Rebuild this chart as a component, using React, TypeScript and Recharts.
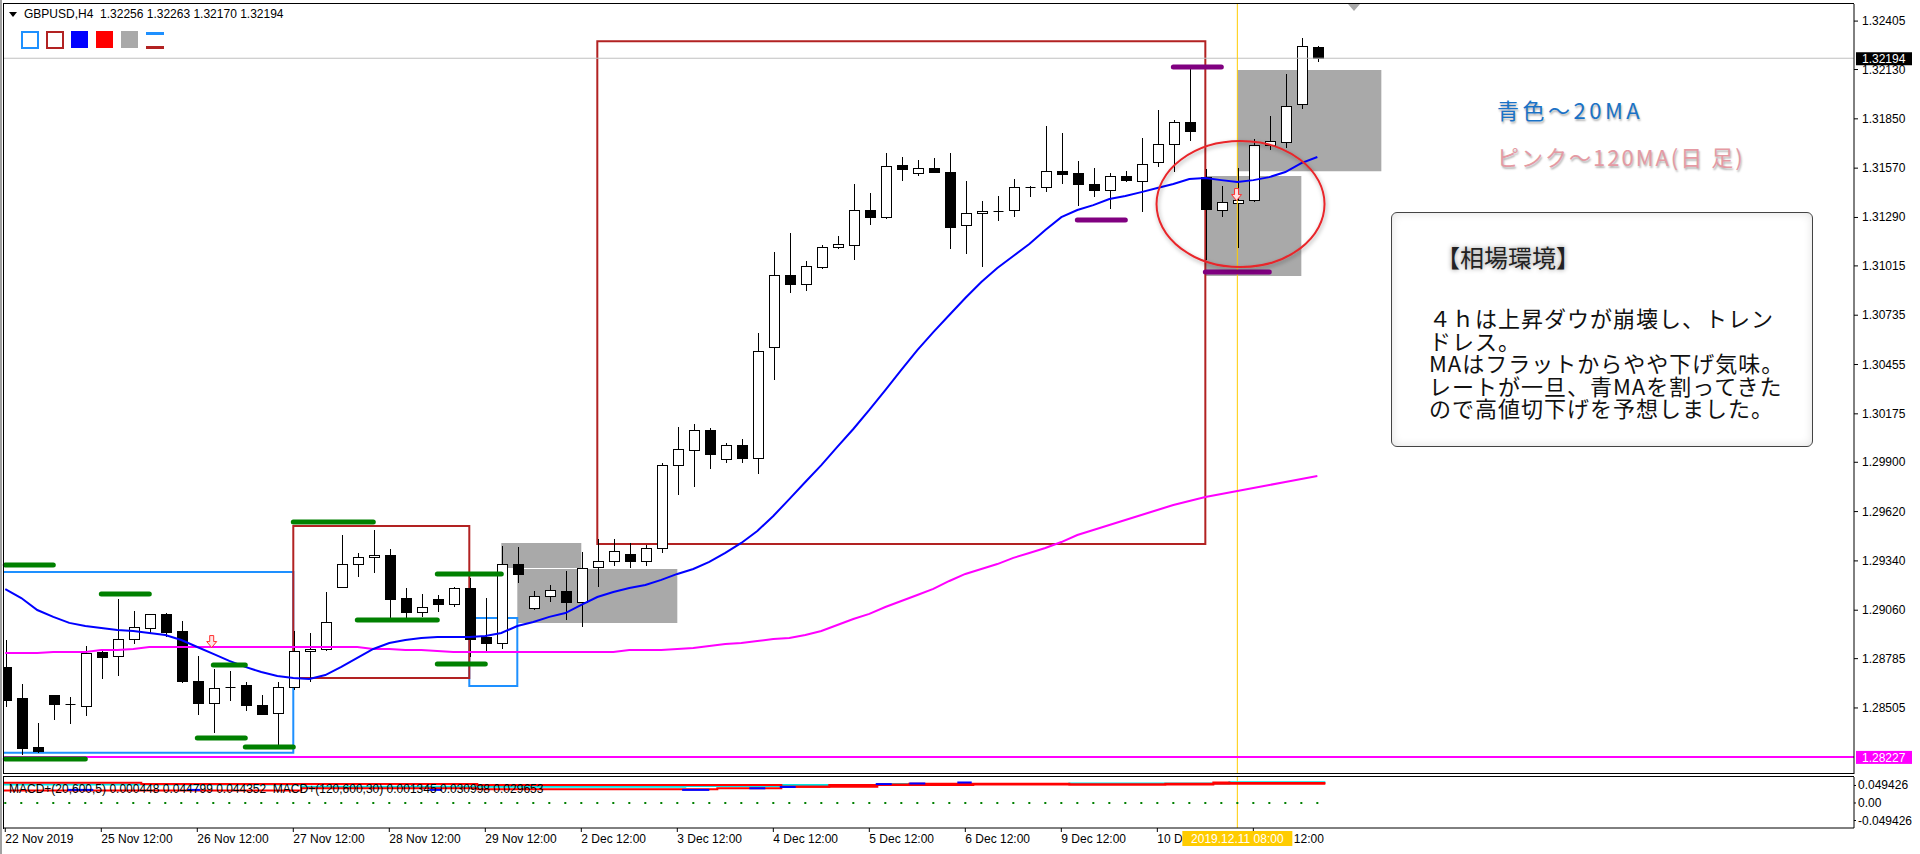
import React from 'react';
import {
  ComposedChart,
  Bar,
  Line,
  Scatter,
  XAxis,
  YAxis,
  ReferenceArea,
  ReferenceLine,
  ReferenceDot,
} from 'recharts';

// GBPUSD H4 bars, 22 Nov 2019 -> 11 Dec 2019 (x value = bar number)
const opens = [
  1.28738, 1.28562, 1.28284, 1.28579, 1.28528, 1.28516, 1.28823, 1.288, 1.28897, 1.28959,
  1.29039, 1.28942, 1.28658, 1.28533, 1.28624, 1.28635, 1.28522, 1.28477, 1.28624, 1.28829,
  1.2884, 1.29192, 1.29322, 1.29362, 1.29374, 1.29129, 1.2905, 1.29124, 1.29095, 1.29186,
  1.28908, 1.28874, 1.29322, 1.29073, 1.29141, 1.29169, 1.29107, 1.29305, 1.29339, 1.29379,
  1.29339, 1.29413, 1.29884, 1.2997, 1.30083, 1.29919, 1.29998, 1.29924, 1.30554, 1.30963,
  1.30912, 1.31009, 1.31122, 1.31133, 1.31332, 1.31292, 1.31588, 1.31542, 1.31571, 1.31548,
  1.31247, 1.31315, 1.31326, 1.31332, 1.31463, 1.31463, 1.31553, 1.31542, 1.3148, 1.31446,
  1.31525, 1.31497, 1.31605, 1.31707, 1.31832, 1.31519, 1.31332, 1.31372, 1.31389, 1.31701,
  1.31718, 1.31934, 1.32256,
];
const highs = [
  1.28891, 1.28641, 1.2842, 1.28579, 1.28567, 1.28857, 1.2884, 1.29124, 1.29056, 1.29039,
  1.29044, 1.28999, 1.288, 1.28726, 1.28715, 1.28652, 1.28579, 1.28652, 1.28942, 1.28931,
  1.29163, 1.29487, 1.29385, 1.29515, 1.29408, 1.29186, 1.29152, 1.29146, 1.29192, 1.29243,
  1.29129, 1.29425, 1.29419, 1.29169, 1.29203, 1.29283, 1.29391, 1.29464, 1.29464, 1.29442,
  1.2943, 1.29896, 1.301, 1.30117, 1.30095, 1.30009, 1.30032, 1.30634, 1.31094, 1.31202,
  1.31043, 1.31133, 1.31184, 1.3148, 1.31429, 1.31656, 1.31633, 1.31616, 1.31627, 1.31656,
  1.31497, 1.31383, 1.31412, 1.31508, 1.31468, 1.31809, 1.31769, 1.3161, 1.31571, 1.31542,
  1.31553, 1.31741, 1.319, 1.31843, 1.3215, 1.31565, 1.31468, 1.31571, 1.31735, 1.31866,
  1.32104, 1.32309, 1.32263,
];
const lows = [
  1.28511, 1.28238, 1.2825, 1.28437, 1.28414, 1.28459, 1.2867, 1.28687, 1.28868, 1.28931,
  1.28908, 1.28647, 1.28465, 1.28363, 1.28545, 1.28488, 1.28465, 1.28284, 1.28607, 1.28652,
  1.28829, 1.29186, 1.29249, 1.29271, 1.29005, 1.28993, 1.29022, 1.2905, 1.29078, 1.28795,
  1.28829, 1.2884, 1.29215, 1.29061, 1.29107, 1.29005, 1.28965, 1.29192, 1.29311, 1.293,
  1.29311, 1.29385, 1.29714, 1.2976, 1.29862, 1.29896, 1.29896, 1.29833, 1.30367, 1.30861,
  1.30872, 1.30997, 1.31111, 1.31048, 1.31247, 1.31281, 1.31497, 1.31525, 1.31542, 1.31111,
  1.31082, 1.31009, 1.3127, 1.31292, 1.31406, 1.31434, 1.3148, 1.31355, 1.31406, 1.31338,
  1.31491, 1.31321, 1.31576, 1.31548, 1.31724, 1.31048, 1.31292, 1.31116, 1.31377, 1.31673,
  1.31684, 1.31905, 1.3217,
];
const closes = [
  1.2855, 1.28278, 1.28261, 1.28528, 1.28526, 1.28817, 1.28795, 1.28897, 1.28965, 1.29039,
  1.28936, 1.28658, 1.28533, 1.28618, 1.28622, 1.28522, 1.28471, 1.28624, 1.28829, 1.2884,
  1.28993, 1.29322, 1.29362, 1.29374, 1.29124, 1.2905, 1.29078, 1.29095, 1.29186, 1.28897,
  1.28874, 1.29322, 1.29266, 1.29141, 1.29175, 1.29107, 1.293, 1.29339, 1.29396, 1.29339,
  1.29413, 1.29884, 1.29975, 1.30083, 1.29947, 1.29998, 1.29924, 1.30532, 1.30963, 1.30912,
  1.31014, 1.31122, 1.31139, 1.31332, 1.31292, 1.31582, 1.31565, 1.31571, 1.31548, 1.31236,
  1.31315, 1.31326, 1.31328, 1.31463, 1.31465, 1.31553, 1.31536, 1.3148, 1.31446, 1.31525,
  1.31502, 1.31593, 1.31707, 1.31832, 1.31781, 1.31338, 1.31377, 1.31389, 1.31701, 1.31724,
  1.31922, 1.32263, 1.32194,
];

// 20MA (blue) and daily 120MA (pink)
const ma20 = [
  1.2918, 1.29129, 1.29061, 1.29022, 1.28988, 1.2897, 1.28959, 1.28948, 1.28942, 1.28931,
  1.28919, 1.28891, 1.28851, 1.28812, 1.28772, 1.28738, 1.28709, 1.28687, 1.28675, 1.2867,
  1.28692, 1.28738, 1.28789, 1.2884, 1.28874, 1.28891, 1.28902, 1.28908, 1.28908, 1.28908,
  1.28913, 1.28931, 1.2897, 1.28993, 1.29022, 1.29044, 1.2909, 1.29135, 1.29163, 1.29186,
  1.29203, 1.29232, 1.29266, 1.29294, 1.29334, 1.29385, 1.29442, 1.2951, 1.29595, 1.29691,
  1.29788, 1.29884, 1.29987, 1.30089, 1.30197, 1.3031, 1.30424, 1.30537, 1.30639, 1.30736,
  1.30833, 1.30923, 1.31003, 1.31071, 1.31139, 1.31219, 1.31292, 1.31332, 1.3136, 1.31395,
  1.31412, 1.31434, 1.31457, 1.3148, 1.31508, 1.31514, 1.31502, 1.31491, 1.31502, 1.31519,
  1.31548, 1.31599, 1.31633,
];
const ma120 = [
  1.28817, 1.28817, 1.28817, 1.28823, 1.28823, 1.28823, 1.28834, 1.28834, 1.2884, 1.28851,
  1.28851, 1.28851, 1.28851, 1.28851, 1.28851, 1.28851, 1.28851, 1.28851, 1.28851, 1.28851,
  1.28851, 1.28851, 1.28851, 1.2884, 1.2884, 1.28834, 1.28834, 1.28829, 1.28823, 1.28823,
  1.28823, 1.28823, 1.28823, 1.28823, 1.28823, 1.28823, 1.28823, 1.28823, 1.28823, 1.28834,
  1.28834, 1.28834, 1.2884, 1.28846, 1.28857, 1.28868, 1.28874, 1.28885, 1.28897, 1.28902,
  1.28919, 1.28942, 1.28976, 1.2901, 1.29039, 1.29078, 1.29112, 1.29146, 1.29181, 1.29226,
  1.29266, 1.29294, 1.29322, 1.29357, 1.29385, 1.29413, 1.29447, 1.29487, 1.29515, 1.29544,
  1.29572, 1.29601, 1.29629, 1.29657, 1.2968, 1.29703, 1.2972, 1.29737, 1.29754, 1.29771,
  1.29788, 1.29805, 1.29822,
];

const priceTicks = [
  1.32405, 1.3213, 1.3185, 1.3157, 1.3129, 1.31015, 1.30735, 1.30455, 1.30175, 1.299, 1.2962,
  1.2934, 1.2906, 1.28785, 1.28505,
];
const timeTickIdx = [0, 6, 12, 18, 24, 30, 36, 42, 48, 54, 60, 66, 72, 78];
const timeTickLabels = [
  '22 Nov 2019', '25 Nov 12:00', '26 Nov 12:00', '27 Nov 12:00', '28 Nov 12:00', '29 Nov 12:00',
  '2 Dec 12:00', '3 Dec 12:00', '4 Dec 12:00', '5 Dec 12:00', '6 Dec 12:00', '9 Dec 12:00',
  '10 Dec 12:00', '11 Dec 12:00',
];
const macdTicks = [0.049426, 0, -0.049426];

const lastBid = 1.32194;
const lineLevel = 1.28227;
const markBar = 77;
const markLabel = '2019.12.11 08:00';

// drawn objects on the chart
const greyBoxes = [
  { x1: 31, x2: 36, y1: 1.293, y2: 1.29442 },
  { x1: 32, x2: 42, y1: 1.28988, y2: 1.29294 },
  { x1: 77, x2: 86, y1: 1.31553, y2: 1.32127 },
  { x1: 75, x2: 81, y1: 1.30957, y2: 1.31525 },
];
const outlineBoxes = [
  { x1: -1, x2: 18, y1: 1.2825, y2: 1.29277, color: '#1e90ff' },
  { x1: 29, x2: 32, y1: 1.2863, y2: 1.29016, color: '#1e90ff' },
  { x1: 18, x2: 29, y1: 1.28675, y2: 1.29538, color: '#b22222' },
  { x1: 37, x2: 75, y1: 1.29436, y2: 1.32291, color: '#b22222' },
];
const greenSegs = [
  { from: 0, to: 3, price: 1.29317 },
  { from: 6, to: 9, price: 1.29152 },
  { from: 0, to: 5, price: 1.28215 },
  { from: 13, to: 15, price: 1.28749 },
  { from: 12, to: 15, price: 1.28335 },
  { from: 15, to: 18, price: 1.28284 },
  { from: 18, to: 23, price: 1.29561 },
  { from: 22, to: 27, price: 1.29005 },
  { from: 27, to: 31, price: 1.29266 },
  { from: 27, to: 30, price: 1.28755 },
];
const purpleSegs = [
  { from: 73, to: 76, price: 1.32144 },
  { from: 67, to: 70, price: 1.31275 },
  { from: 75, to: 79, price: 1.3098 },
];
const arrows = [
  { x: 12.9, price: 1.28882 },
  { x: 76.95, price: 1.3142 },
];
const circleAt = { x: 77.2, price: 1.31366 };

// MACD+ sub window (step lines)
const macdCyan = [
  { i: -0.5, v: 0.0525 }, { i: 18.5, v: 0.046 }, { i: 42.5, v: 0.048 }, { i: 48.5, v: 0.0506 },
  { i: 54.5, v: 0.0534 }, { i: 66.5, v: 0.0551 }, { i: 76.5, v: 0.0587 }, { i: 82.5, v: 0.0587 },
];
const macdRedUpper = [
  { i: -0.5, v: 0.0571 }, { i: 8.5, v: 0.0534 }, { i: 29.5, v: 0.0506 }, { i: 48.5, v: 0.046 },
  { i: 51.5, v: 0.0506 }, { i: 54.5, v: 0.0525 }, { i: 56.5, v: 0.0542 }, { i: 66.5, v: 0.0525 },
  { i: 75.5, v: 0.0579 }, { i: 76.5, v: 0.0562 }, { i: 82.5, v: 0.0562 },
];
const macdRedLower = [
  { i: -0.5, v: 0.0353 }, { i: 18.5, v: 0.0415 }, { i: 29.5, v: 0.0387 }, { i: 44.5, v: 0.0415 },
  { i: 48.5, v: 0.046 }, { i: 54.5, v: 0.0506 }, { i: 60.5, v: 0.0525 }, { i: 72.5, v: 0.0542 },
  { i: 82.5, v: 0.0542 },
];
const macdBlueSegs = [
  { from: 3.9, to: 5.5, v: 0.037 }, { from: 11.4, to: 12.2, v: 0.037 },
  { from: 26.5, to: 27.3, v: 0.037 }, { from: 42.3, to: 44, v: 0.037 },
  { from: 46.5, to: 47.5, v: 0.0415 }, { from: 48.4, to: 49.4, v: 0.0452 },
  { from: 54.4, to: 55.4, v: 0.0534 }, { from: 56.5, to: 57.5, v: 0.0551 },
  { from: 59.5, to: 60.4, v: 0.0579 },
];

const boxLines = [
  '４ｈは上昇ダウが崩壊し、トレン',
  'ドレス。',
  'MAはフラットからやや下げ気味。',
  'レートが一旦、青MAを割ってきた',
  'ので高値切下げを予想しました。',
];

const rows = opens.map((open, i) => ({
  i,
  open,
  high: highs[i],
  low: lows[i],
  close: closes[i],
  ma20: ma20[i],
  ma120: ma120[i],
  zero: 0,
}));

const FONT = '"Liberation Sans", Arial, sans-serif';
const JP = '"Noto Sans CJK JP", sans-serif';
const X_DOMAIN: [number, number] = [-0.08, 115.54];
const MACD_DOMAIN: [number, number] = [-0.0706, 0.0734];

const Candle = (props: any) => {
  const { x, y, width, height, payload } = props;
  if (!payload) return null;
  const { open, close, high, low } = payload;
  const top = Math.min(y, y + height);
  const h = Math.abs(height);
  const cx = Math.round(x + width / 2) + 0.5;
  const py = (v: number) => top + ((high - v) / (high - low)) * h;
  const bTop = Math.round(py(Math.max(open, close))) + 0.5;
  const bBot = Math.round(py(Math.min(open, close))) + 0.5;
  const bull = close >= open;
  return (
    <g>
      <line x1={cx} x2={cx} y1={Math.round(top)} y2={Math.round(top + h)} stroke="#000" />
      {bBot - bTop < 1 ? (
        <line x1={cx - 5} x2={cx + 5} y1={bTop} y2={bTop} stroke="#000" />
      ) : (
        <rect x={cx - 5} y={bTop} width={10} height={bBot - bTop} fill={bull ? '#fff' : '#000'} stroke="#000" />
      )}
    </g>
  );
};

const PriceTick = (p: any) => (
  <text x={p.x} y={p.y} dy={4} textAnchor="start" fontSize={12} fontFamily={FONT} fill="#000">
    {Number(p.payload.value).toFixed(5)}
  </text>
);

const MacdTick = (p: any) => {
  const v = Number(p.payload.value);
  return (
    <text x={p.x} y={p.y} dy={4} textAnchor="start" fontSize={12} fontFamily={FONT} fill="#000">
      {v === 0 ? '0.00' : v.toFixed(6)}
    </text>
  );
};

const TimeTick = (p: any) => {
  const k = timeTickIdx.indexOf(Number(p.payload.value));
  return (
    <text x={p.x} y={p.y} dy={9} textAnchor="start" fontSize={12} fontFamily={FONT} fill="#000">
      {timeTickLabels[k]}
    </text>
  );
};

const priceBox = (bg: string, value: number) => (p: any) => (
  <g>
    <rect x={p.cx + 2} y={p.cy - 6} width={56} height={13} fill={bg} />
    <text x={p.cx + 8} y={p.cy + 5} fontSize={12} fontFamily={FONT} fill="#fff">
      {value.toFixed(5)}
    </text>
  </g>
);

const Ellipse = (p: any) => (
  <g>
    <defs>
      <filter id="ellShadow" x="-20%" y="-20%" width="140%" height="140%">
        <feDropShadow dx="1" dy="2" stdDeviation="2" floodColor="#000" floodOpacity="0.35" />
      </filter>
    </defs>
    <ellipse cx={p.cx} cy={p.cy} rx={84} ry={63} fill="none" stroke="#e8262b" strokeWidth={2} filter="url(#ellShadow)" />
  </g>
);

const Arrow = (p: any) => (
  <path
    d={`M${p.cx - 2},${p.cy - 6} h4 v6 h3 l-5,6 l-5,-6 h3 z`}
    fill="#ffe4e4"
    stroke="#ff3030"
    strokeWidth={1}
  />
);

const GoldLabel = (p: any) => (
  <g>
    <rect x={p.cx - 55} y={p.cy + 3} width={110} height={15} fill="#ffcc00" />
    <text x={p.cx} y={p.cy + 15} textAnchor="middle" fontSize={12} fontFamily={FONT} fill="#fff">
      {markLabel}
    </text>
  </g>
);

const GreenDot = (p: any) => <rect x={p.cx - 1} y={p.cy - 1} width={2} height={2} fill="#008000" />;

const iconStyle = (extra: React.CSSProperties): React.CSSProperties => ({
  position: 'absolute',
  top: 31,
  width: 18,
  height: 18,
  boxSizing: 'border-box',
  ...extra,
});

const noteStyle = (color: string, top: number, spacing: number): React.CSSProperties => ({
  position: 'absolute',
  left: 1497,
  top,
  fontFamily: JP,
  fontSize: 22,
  lineHeight: '26px',
  letterSpacing: spacing,
  color,
  textShadow: '1px 2px 2px rgba(0,0,0,0.3)',
  whiteSpace: 'pre',
});

export default function App() {
  return (
    <div style={{ position: 'fixed', left: 0, top: 0, width: 1920, height: 854, background: '#fff', overflow: 'hidden', fontFamily: FONT }}>
      <div style={{ position: 'absolute', left: 0, top: 0 }}>
        <ComposedChart width={1920} height={775} data={rows} margin={{ top: 4, right: 0, bottom: 1, left: 4 }}>
          <XAxis type="number" dataKey="i" domain={X_DOMAIN} hide allowDataOverflow />
          <YAxis
            orientation="right"
            type="number"
            domain={[1.2813, 1.32502]}
            ticks={priceTicks}
            interval={0}
            width={66}
            allowDataOverflow
            tickSize={4}
            tickMargin={4}
            axisLine={{ stroke: '#000' }}
            tickLine={{ stroke: '#000' }}
            tick={<PriceTick />}
          />
          {greyBoxes.map((b, k) => (
            <ReferenceArea key={'g' + k} x1={b.x1} x2={b.x2} y1={b.y1} y2={b.y2} fill="#a9a9a9" fillOpacity={1} stroke="none" ifOverflow="hidden" />
          ))}
          {outlineBoxes.map((b, k) => (
            <ReferenceArea key={'o' + k} x1={b.x1} x2={b.x2} y1={b.y1} y2={b.y2} fill="none" fillOpacity={0} stroke={b.color} strokeWidth={2} ifOverflow="hidden" />
          ))}
          <ReferenceLine y={lastBid} stroke="#c0c0c0" strokeWidth={1} />
          <ReferenceLine x={markBar} stroke="#ffcc00" strokeWidth={1} />
          <Line dataKey="ma120" type="linear" stroke="#ff00ff" strokeWidth={2} dot={false} isAnimationActive={false} />
          <Line dataKey="ma20" type="linear" stroke="#0000ff" strokeWidth={2} dot={false} isAnimationActive={false} />
          <ReferenceLine y={lineLevel} stroke="#ff00ff" strokeWidth={2} />
          {greenSegs.map((s, k) => (
            <ReferenceLine key={'s' + k} segment={[{ x: s.from, y: s.price }, { x: s.to, y: s.price }]} stroke="#008000" strokeWidth={5} strokeLinecap="round" />
          ))}
          {purpleSegs.map((s, k) => (
            <ReferenceLine key={'p' + k} segment={[{ x: s.from, y: s.price }, { x: s.to, y: s.price }]} stroke="#800080" strokeWidth={5} strokeLinecap="round" />
          ))}
          <Bar dataKey={(d: any) => [d.low, d.high]} barSize={11} shape={<Candle />} isAnimationActive={false} />
          <ReferenceDot x={circleAt.x} y={circleAt.price} r={1} ifOverflow="visible" shape={<Ellipse />} />
          {arrows.map((a, k) => (
            <ReferenceDot key={'a' + k} x={a.x} y={a.price} r={1} ifOverflow="visible" shape={<Arrow />} />
          ))}
          <ReferenceDot x={X_DOMAIN[1]} y={lastBid} r={1} ifOverflow="visible" shape={priceBox('#000', lastBid)} />
          <ReferenceDot x={X_DOMAIN[1]} y={lineLevel} r={1} ifOverflow="visible" shape={priceBox('#ff00ff', lineLevel)} />
        </ComposedChart>
      </div>

      <div style={{ position: 'absolute', left: 0, top: 775 }}>
        <ComposedChart width={1920} height={79} data={rows} margin={{ top: 2, right: 0, bottom: 0, left: 4 }}>
          <XAxis
            type="number"
            dataKey="i"
            domain={X_DOMAIN}
            ticks={timeTickIdx}
            interval={0}
            height={26}
            allowDataOverflow
            tickSize={4}
            tickMargin={2}
            axisLine={{ stroke: '#000' }}
            tickLine={{ stroke: '#000' }}
            tick={<TimeTick />}
          />
          <YAxis
            orientation="right"
            type="number"
            domain={MACD_DOMAIN}
            ticks={macdTicks}
            interval={0}
            width={66}
            allowDataOverflow
            tickSize={2}
            tickMargin={2}
            axisLine={{ stroke: '#000' }}
            tickLine={{ stroke: '#000' }}
            tick={<MacdTick />}
          />
          <ReferenceLine x={markBar} stroke="#ffcc00" strokeWidth={1} />
          <Scatter dataKey="zero" shape={<GreenDot />} isAnimationActive={false} />
          <Line data={macdCyan} dataKey="v" type="stepAfter" stroke="#00e5e5" strokeWidth={2} dot={false} isAnimationActive={false} />
          <Line data={macdRedUpper} dataKey="v" type="stepAfter" stroke="#ff0000" strokeWidth={2} dot={false} isAnimationActive={false} />
          <Line data={macdRedLower} dataKey="v" type="stepAfter" stroke="#ff0000" strokeWidth={2} dot={false} isAnimationActive={false} />
          {macdBlueSegs.map((s, k) => (
            <ReferenceLine key={'b' + k} segment={[{ x: s.from, y: s.v }, { x: s.to, y: s.v }]} stroke="#0000ff" strokeWidth={2} />
          ))}
        </ComposedChart>
      </div>

      {/* same scales again, on top, so the cursor date box covers the time labels */}
      <div style={{ position: 'absolute', left: 0, top: 775 }}>
        <ComposedChart width={1920} height={79} data={rows} margin={{ top: 2, right: 0, bottom: 0, left: 4 }}>
          <XAxis type="number" dataKey="i" domain={X_DOMAIN} height={26} allowDataOverflow axisLine={false} tickLine={false} tick={false} />
          <YAxis orientation="right" type="number" domain={MACD_DOMAIN} width={66} allowDataOverflow axisLine={false} tickLine={false} tick={false} />
          <ReferenceDot x={markBar} y={MACD_DOMAIN[0]} r={1} ifOverflow="visible" shape={<GoldLabel />} />
        </ComposedChart>
      </div>

      {/* window frame */}
      <div style={{ position: 'absolute', left: 0, top: 0, width: 2, height: 854, background: '#a0a0a0' }} />
      <div style={{ position: 'absolute', left: 3, top: 3, width: 1851, height: 771, borderTop: '1px solid #000', borderLeft: '1px solid #000', borderBottom: '1px solid #000', boxSizing: 'border-box', pointerEvents: 'none' }} />
      <div style={{ position: 'absolute', left: 3, top: 776, width: 1851, height: 53, borderTop: '1px solid #000', borderLeft: '1px solid #000', boxSizing: 'border-box', pointerEvents: 'none' }} />
      <div style={{ position: 'absolute', left: 1348, top: 4, width: 0, height: 0, borderLeft: '6px solid transparent', borderRight: '6px solid transparent', borderTop: '7px solid #a8a8a8' }} />

      {/* header */}
      <div style={{ position: 'absolute', left: 9, top: 12, width: 0, height: 0, borderLeft: '4px solid transparent', borderRight: '4px solid transparent', borderTop: '5px solid #000' }} />
      <div style={{ position: 'absolute', left: 24, top: 7, fontSize: 12, lineHeight: '14px', color: '#000', whiteSpace: 'pre' }}>
        GBPUSD,H4  1.32256 1.32263 1.32170 1.32194
      </div>
      <div style={iconStyle({ left: 21, border: '2px solid #1e90ff' })} />
      <div style={iconStyle({ left: 46, border: '2px solid #b22222' })} />
      <div style={iconStyle({ left: 71, background: '#0000ff', width: 17, height: 17 })} />
      <div style={iconStyle({ left: 96, background: '#ff0000', width: 17, height: 17 })} />
      <div style={iconStyle({ left: 121, background: '#a9a9a9', width: 17, height: 17 })} />
      <div style={{ position: 'absolute', left: 146, top: 32, width: 18, height: 3, background: '#1e90ff' }} />
      <div style={{ position: 'absolute', left: 146, top: 46, width: 18, height: 3, background: '#b22222' }} />

      {/* MACD caption */}
      <div style={{ position: 'absolute', left: 9, top: 782, fontSize: 12, lineHeight: '14px', color: '#000', whiteSpace: 'pre' }}>
        MACD+(20,600,5) 0.000448 0.044799 0.044352  MACD+(120,600,30) 0.001345 0.030998 0.029653
      </div>

      {/* notes */}
      <div style={noteStyle('#1a72c6', 96, 3.5)}>青色～20MA</div>
      <div style={noteStyle('#e49aa3', 143, 2)}>ピンク～120MA(日 足)</div>
      <div style={{ position: 'absolute', left: 1391, top: 212, width: 422, height: 235, boxSizing: 'border-box', border: '1px solid #444', borderRadius: 6, background: '#fff', boxShadow: 'inset 0 0 10px rgba(0,0,0,0.12)' }}>
        <div style={{ position: 'absolute', left: 44, top: 30, fontFamily: JP, fontSize: 24, lineHeight: '28px', color: '#222', textShadow: '0 0 5px rgba(0,0,0,0.45)', whiteSpace: 'pre' }}>
          【相場環境】
        </div>
        <div style={{ position: 'absolute', left: 37, top: 93, fontFamily: JP, fontSize: 22, lineHeight: '22.5px', letterSpacing: 1, color: '#111', whiteSpace: 'pre' }}>
          {boxLines.join('\n')}
        </div>
      </div>
    </div>
  );
}
